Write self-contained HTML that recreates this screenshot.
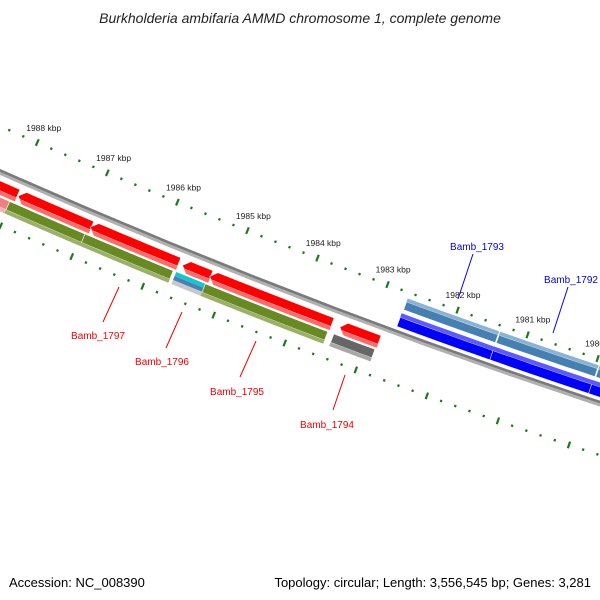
<!DOCTYPE html>
<html><head><meta charset="utf-8"><style>
html,body{margin:0;padding:0;background:#fff;}
svg{display:block;font-family:"Liberation Sans",sans-serif;}
</style></head><body>
<svg id="chart" width="600" height="600" viewBox="0 0 600 600" xmlns="http://www.w3.org/2000/svg">
<rect width="600" height="600" fill="#fff"/>
<text x="300" y="23" text-anchor="middle" font-size="14" font-style="italic" fill="#222">Burkholderia ambifaria AMMD chromosome 1, complete genome</text>
<g id="layer"></g>
<text x="9" y="587" font-size="13" fill="#000">Accession: NC_008390</text>
<text x="591" y="587" text-anchor="end" font-size="13" fill="#000">Topology: circular; Length: 3,556,545 bp; Genes: 3,281</text>
</svg>
<script>
// ---- data ----
const featStart = [1988600,1987949,1986928,1985624,1985240,1983397, 1988600,1988020,1986956,1985666,1985254,1983439, 1982690,1981371,1979968, 1982682,1981363,1979945];
const featEnd   = [1987960,1986914,1985681,1985226,1983510,1982844, 1988020,1986956,1985709,1985226,1983524,1982858, 1981414,1979996,1978800, 1981377,1979959,1978800];
const featLane  = ['red','red','red','red','red','red', 'low','low','low','low','low','low', 'blue','blue','blue', 'steel','steel','steel'];
const featType  = ['cds-red','cds-red','cds-red','cds-red','cds-red','cds-red', 'pink','gene','gene','multi','gene','grey', 'cds-blue','cds-blue','cds-blue', 'steel','steel','steel'];
const featArrow = [-1,-1,-1,-1,-1,-1, 0,0,0,0,0,0, 1,1,1, 0,0,0];
const tickStart = 1989000, tickEnd = 1978000, tickStep = 200;
const labelNames = ['Bamb_1797','Bamb_1796','Bamb_1795','Bamb_1794','Bamb_1793','Bamb_1792'];
const labelColors = ['#e00','#e00','#e00','#e00','#00e','#00e'];

// ---- geometry ----
const laneD = {red:[-8,-21], low:[-23,-36], blue:[6,20], steel:[24,36]};
const colors = {
 'cds-red':['#ff0000','#ff6a6a'], 'pink':['#f08080','#f6b0b0'], 'gene':['#688a22','#9bb06a'],
 'grey':['#666666','#a8a8a8'], 'cds-blue':['#0000ff','#5a5aff'], 'steel':['#4680b2','#8ab2d4'] };
function pt(bp,d){
  const u = 20.4 + (1988000-bp)*0.0705;
  const y = 172 + 0.443*u - 9.5e-5*u*u;
  const yp = 0.443 - 1.9e-4*u;
  const n = Math.sqrt(1+yp*yp);
  return [u + d*yp/n, y - d/n];
}
const layer = document.getElementById('layer');
const NS='http://www.w3.org/2000/svg';
function mk(tag){return document.createElementNS(NS,tag);}
function edge(a,b,d){const r=[];const N=10;for(let i=0;i<=N;i++){r.push(pt(a+(b-a)*i/N,d));}return r;}
function strip(a,b,dt,db,d1,d2,dir,head){
  const dm=(dt+db)/2, half=(dt-db)/2;
  let lf1=a,lf2=a,rt1=b,rt2=b;
  if(dir<0){lf1=a-head*(Math.abs(d1-dm)/half);lf2=a-head*(Math.abs(d2-dm)/half);}
  if(dir>0){rt1=b+head*(Math.abs(d1-dm)/half);rt2=b+head*(Math.abs(d2-dm)/half);}
  let p=[];
  p=p.concat(edge(lf1,rt1,d1));
  if(dir>0 && d1>dm && d2<dm) p.push(pt(b,dm));
  p=p.concat(edge(rt2,lf2,d2));
  if(dir<0 && d1>dm && d2<dm) p.push(pt(a,dm));
  return p.map(q=>q[0].toFixed(2)+','+q[1].toFixed(2)).join(' ');
}
function poly(points,fill,name){
  const e=mk('polygon');
  e.setAttribute('points',points);e.setAttribute('fill',fill);
  
  
  layer.appendChild(e);return e;
}
// backbone
poly(strip(1989500,1977500,2.8,-2.8,2.8,0,0,0),'#7a7a7a','backbone-top');
poly(strip(1989500,1977500,2.8,-2.8,0,-2.8,0,0),'#b0b0b0','backbone-bottom');
// features
for(let i=0;i<featStart.length;i++){
  const [dt,db]=laneD[featLane[i]]; const h=dt-db;
  const a=featStart[i], b=featEnd[i], dir=featArrow[i];
  const head = dir<0?85:115;
  const g=mk('g');
  
  
  layer.appendChild(g);
  if(featType[i]==='multi'){
    const c=['#10c8d0','#4a80b0','#c8c8c8'];
    for(let k=0;k<3;k++){
      const e=poly(strip(a,b,dt,db,dt-h*k/3,dt-h*(k+1)/3,0,0),c[k],'feature-stripe');
      g.appendChild(e);
    }
    continue;
  }
  const col=colors[featType[i]];
  const e1=poly(strip(a,b,dt,db,dt,db+h*0.3,dir,head),col[0],'feature-body');
  const e2=poly(strip(a,b,dt,db,db+h*0.3,db,dir,head),col[1],'feature-shade');
  e1.setAttribute('stroke','#fff');e1.setAttribute('stroke-width','0.6');
  g.appendChild(e1);g.appendChild(e2);
}
// ticks
for(let bp=tickStart;bp>=tickEnd;bp-=tickStep){
  const major = bp%1000===0;
  [42,-49].forEach(d=>{
    const len=major?3.5:1.2;
    const p1=pt(bp,d+len),p2=pt(bp,d-len);
    const l=mk('line');
    l.setAttribute('x1',p1[0]);l.setAttribute('y1',p1[1]);l.setAttribute('x2',p2[0]);l.setAttribute('y2',p2[1]);
    l.setAttribute('stroke','#1a7a1a');l.setAttribute('stroke-width','2.2');
    
    
    layer.appendChild(l);
  });
  if(major){
    const p=pt(bp,58);
    const t=mk('text');
    t.setAttribute('x',p[0]);t.setAttribute('y',p[1]+3);t.setAttribute('text-anchor','middle');
    t.setAttribute('font-size','8.5');t.setAttribute('fill','#222');
    t.textContent=(bp/1000)+' kbp';
    
    
    layer.appendChild(t);
  }
}
// gene labels
const labelPos=[[98,339,119,287,103,322],[162,365,182,312,166,348],[237,395,256,341,240,377],[327,428,345,375,333,410],[477,250,473,254,458,299],[571,283,568,287,553,333]];
for(let i=0;i<labelNames.length;i++){
  const q=labelPos[i];
  const l=mk('line');
  l.setAttribute('x1',q[2]);l.setAttribute('y1',q[3]);l.setAttribute('x2',q[4]);l.setAttribute('y2',q[5]);
  l.setAttribute('stroke',labelColors[i]);l.setAttribute('stroke-width','1');
  
  
  layer.appendChild(l);
  const t=mk('text');
  t.setAttribute('x',q[0]);t.setAttribute('y',q[1]);t.setAttribute('text-anchor','middle');
  t.setAttribute('font-size','10');t.setAttribute('fill',labelColors[i]);
  t.textContent=labelNames[i];
  
  
  layer.appendChild(t);
}
</script>
</body></html>
